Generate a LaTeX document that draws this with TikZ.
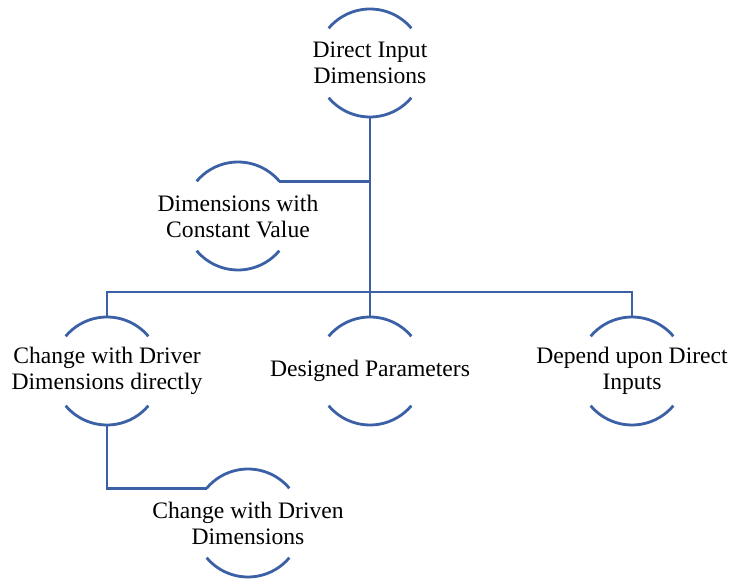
\documentclass[tikz,border=0pt]{standalone}
\usepackage{fontspec}
\setmainfont{Liberation Serif}
\usepackage{tikz}
\usepackage{xcolor}
\usetikzlibrary{calc}

\definecolor{arcblue}{RGB}{59,96,165}

\begin{document}
\begin{tikzpicture}[x=1pt,y=1pt,
    label/.style={align=center,font=\rmfamily\fontsize{23.6}{26}\selectfont,inner sep=0pt},
    arcline/.style={draw=arcblue,line width=2.8pt},
    link/.style={draw=arcblue,line width=2.6pt}]
  \useasboundingbox (0,0) rectangle (731,581);
  \def\r{54pt}

  % Labels
  \node[label] (top) at (370,518) {Direct Input\\Dimensions};
  \node[label] (const) at (238,365) {Dimensions with\\Constant Value};
  \node[label] (left) at (107,210) {Change with Driver\\Dimensions directly};
  \node[label] (mid) at (370,210) {Designed Parameters};
  \node[label] (right) at (632,210) {Depend upon Direct\\Inputs};
  \node[label] (driven) at (248,58) {Change with Driven\\Dimensions};

  % Open circles round the labels
  \foreach \n in {top,const,left,mid,right,driven} {
    \draw[arcline] ([shift={(40:\r)}]\n.center) arc[start angle=40,end angle=140,radius=\r];
    \draw[arcline] ([shift={(220:\r)}]\n.center) arc[start angle=220,end angle=320,radius=\r];
  }

  % Connectors
  \coordinate (bar) at (370,289);
  \coordinate (constend) at ([shift={(40:\r)}]const.center);
  \coordinate (drivenend) at ([shift={(140:\r)}]driven.center);
  \draw[link] ([yshift=-\r]top.center) -- (bar);
  \draw[link] (constend) -- (constend -| bar);
  \draw[link] ([yshift=\r]left.center) |- (bar) -| ([yshift=\r]right.center);
  \draw[link] (bar) -- ([yshift=\r]mid.center);
  \draw[link] ([yshift=-\r]left.center) |- (drivenend);
\end{tikzpicture}
\end{document}
